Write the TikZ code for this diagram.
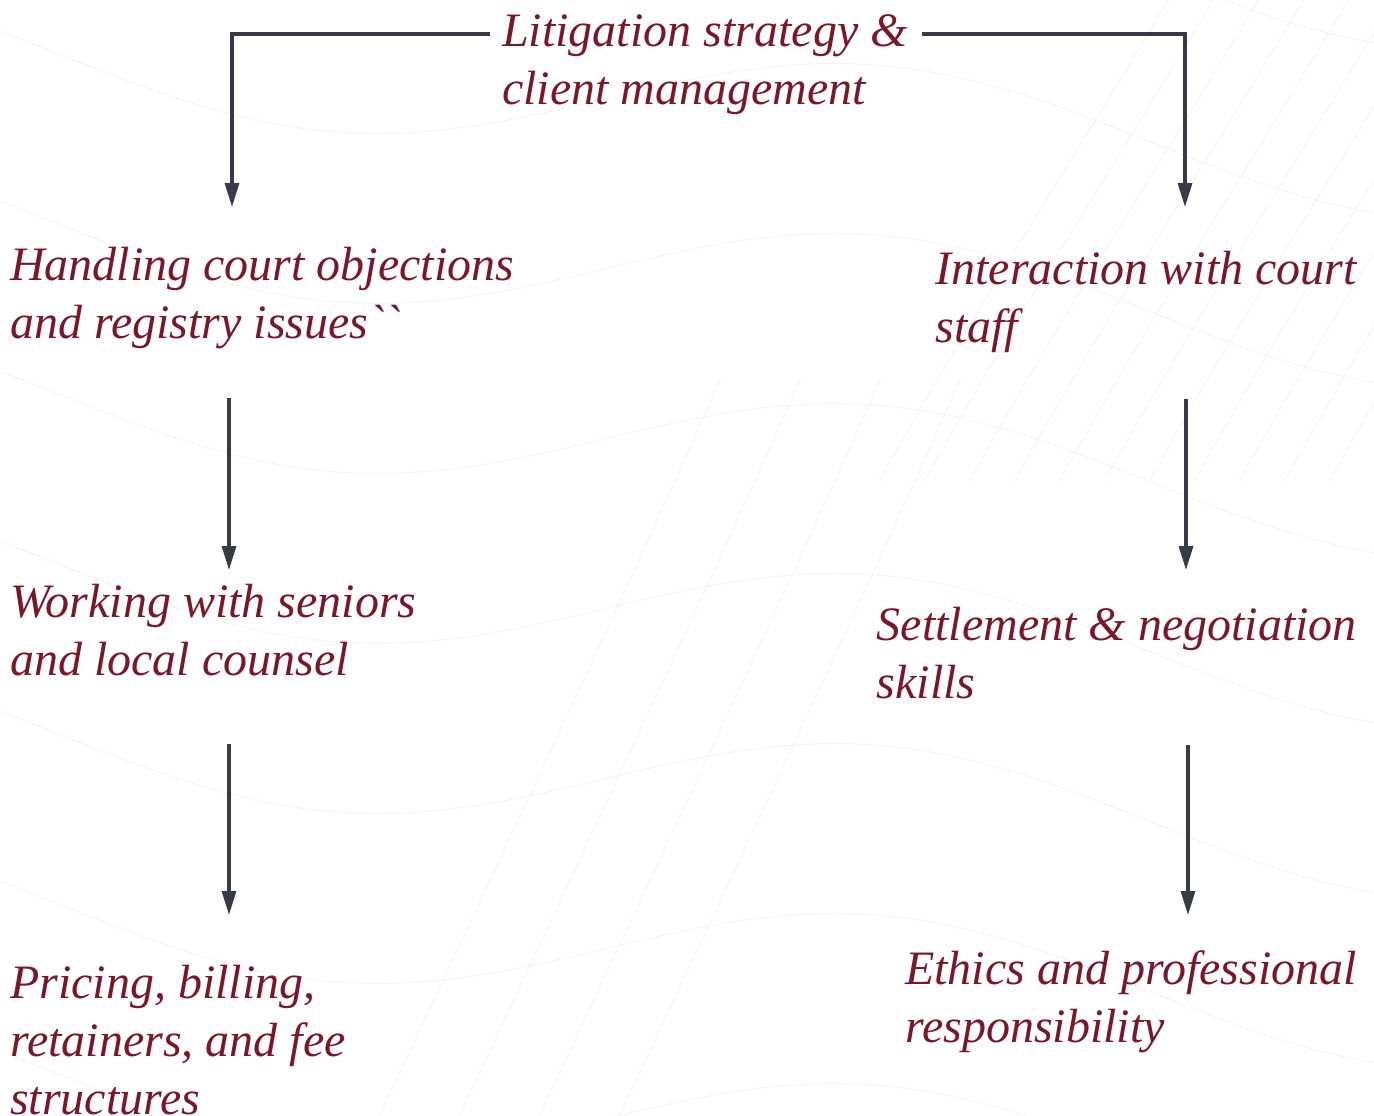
\documentclass[tikz,border=0pt]{standalone}
\usepackage{fontspec}
\setmainfont{Liberation Serif}
\newfontfamily\rawserif{Liberation Serif}
\usetikzlibrary{arrows.meta,calc}
\definecolor{txt}{RGB}{122,24,42}
\definecolor{arrc}{RGB}{54,59,71}
\definecolor{bgl}{RGB}{241,241,241}
\begin{document}
\begin{tikzpicture}[x=0.75pt,y=-0.75pt,
  lbl/.style={inner sep=0pt, align=left, text=txt, font=\itshape\fontsize{36}{43.5}\selectfont},
  conn/.style={draw=arrc, line width=2.4pt, -{Triangle[length=18pt,width=10.5pt]}},
  wave/.style={draw=bgl, line width=0.6pt}]
\useasboundingbox (0,0) rectangle (1374,1115);
% faint background pattern
\foreach \yy in {-120,50,...,1250}
  \draw[wave] plot[smooth, samples=70, domain=0:1374] (\x,{\yy + 55*sin(0.33*\x - 20) + 0.08*\x});
\foreach \d in {0,45,...,450}
  \draw[wave] (880+\d,480) .. controls (980+\d,300) and (1080+\d,150) .. (1180+\d,-20);
\foreach \d in {0,80,...,240}
  \draw[wave] (380+\d,1115) .. controls (480+\d,900) and (600+\d,650) .. (720+\d,380);
% nodes
\node[lbl, anchor=north west] (top) at (502,14) {Litigation strategy \&\\client management};
\node[lbl, anchor=north west] (L1) at (10,247) {Handling court objections\\and registry issues{\rawserif\itshape ``}};
\node[lbl, anchor=north west] (L2) at (10,584) {Working with seniors\\and local counsel};
\node[lbl, anchor=north west] (L3) at (10,965) {Pricing, billing,\\retainers, and fee\\structures};
\node[lbl, anchor=north east] (R1) at (1357,251) {Interaction with court\\staff};
\node[lbl, anchor=north east] (R2) at (1357,607) {Settlement \& negotiation\\skills};
\node[lbl, anchor=north east] (R3) at (1357,950) {Ethics and professional\\responsibility};
% connectors
\draw[conn] ($(top.north west)+(-12,20)$) -| ($(L1.north west)+(222,-40)$);
\draw[conn] ($(top.north east)+(14,20)$) -| ($(R1.north east)+(-172,-44)$);
\draw[conn] ($(L1.south west)+(219,48.5)$) -- ($(L2.north west)+(219,-14)$);
\draw[conn] ($(L2.south west)+(219,68)$) -- ($(L3.north west)+(219,-50)$);
\draw[conn] ($(R1.south east)+(-171,46)$) -- ($(R2.north east)+(-171,-37)$);
\draw[conn] ($(R2.south east)+(-169,46)$) -- ($(R3.north east)+(-169,-35)$);
\end{tikzpicture}
\end{document}
